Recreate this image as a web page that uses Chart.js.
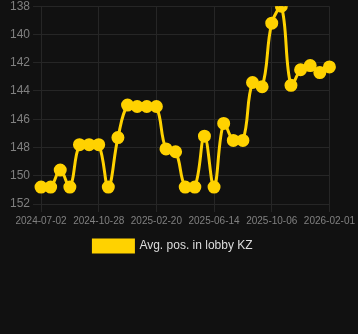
<!DOCTYPE html>
<html>
<head>
<meta charset="utf-8">
<script src="https://cdn.jsdelivr.net/npm/chart.js@4/dist/chart.umd.min.js"></script>
<style>
    html, body { margin: 0; padding: 0; background: #111111; overflow: hidden; }
    #wrap { width: 358px; height: 266px; position: relative; margin-top: -4px; }
</style>
</head>
<body>
<div id="wrap"><canvas id="lobbyChart"></canvas></div>
<script>
// dates of each sample (only every 6th one is shown on the axis)
const dates = [
    '2024-07-02', '2024-07-22', '2024-08-11', '2024-08-31', '2024-09-19', '2024-10-09',
    '2024-10-28', '2024-11-17', '2024-12-06', '2024-12-25', '2025-01-13', '2025-02-01',
    '2025-02-20', '2025-03-11', '2025-03-30', '2025-04-18', '2025-05-07', '2025-05-26',
    '2025-06-14', '2025-07-03', '2025-07-22', '2025-08-10', '2025-08-29', '2025-09-17',
    '2025-10-06', '2025-10-26', '2025-11-15', '2025-12-04', '2025-12-24', '2026-01-12',
    '2026-02-01'
];
const avgPos = [
    150.8, 150.8, 149.6, 150.8, 147.8, 147.8,
    147.8, 150.8, 147.3, 145.0, 145.1, 145.1,
    145.1, 148.1, 148.3, 150.8, 150.8, 147.2,
    150.8, 146.3, 147.5, 147.5, 143.4, 143.7,
    139.2, 138.0, 143.6, 142.5, 142.2, 142.7,
    142.3
];
const seriesLabel = 'Avg. pos. in lobby KZ';
const yMin = 138;
const yMax = 152;

window.addEventListener('load', () => {
    const ctx = document.getElementById('lobbyChart').getContext('2d');
    const gold = '#FFD200';
    const gridColor = '#262626';

    new Chart(ctx, {
        type: 'line',
        data: {
            labels: dates,
            datasets: [{
                label: seriesLabel,
                data: avgPos,
                borderColor: gold,
                backgroundColor: gold,
                borderWidth: 3,
                pointRadius: 5,
                pointHoverRadius: 6,
                pointBackgroundColor: gold,
                pointBorderColor: gold,
                tension: 0.4,
                fill: false
            }]
        },
        options: {
            responsive: true,
            maintainAspectRatio: false,
            animation: false,
            layout: {
                padding: { left: 7, right: 19 }
            },
            plugins: {
                legend: {
                    position: 'bottom',
                    labels: {
                        color: '#dddddd',
                        font: { size: 12 },
                        boxWidth: 40,
                        boxHeight: 12
                    }
                },
                tooltip: { enabled: false }
            },
            scales: {
                x: {
                    grid: { color: gridColor },
                    border: { color: gridColor },
                    ticks: {
                        color: '#808080',
                        font: { size: 10 },
                        autoSkip: false,
                        maxRotation: 0,
                        callback: function (val, i) {
                            return i % 6 === 0 ? dates[i] : null;
                        }
                    }
                },
                y: {
                    reverse: true,
                    min: yMin,
                    max: yMax,
                    grid: { color: gridColor },
                    border: { color: gridColor },
                    ticks: {
                        color: '#808080',
                        font: { size: 12 },
                        stepSize: 2
                    }
                }
            }
        }
    });
});
</script>
</body>
</html>
